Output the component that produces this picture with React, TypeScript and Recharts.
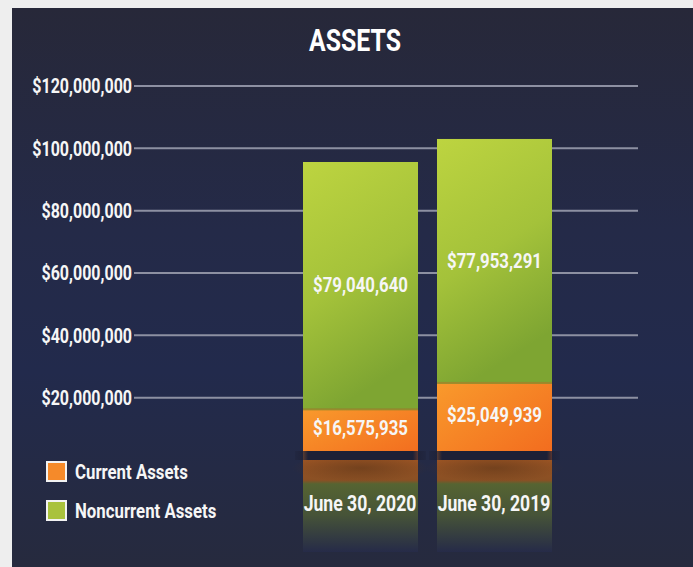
import { BarChart, Bar, XAxis, YAxis, CartesianGrid, Legend, LabelList } from "recharts";

const categories = ["June 30, 2020", "June 30, 2019"];
const currentAssets = [16575935, 25049939];
const noncurrentAssets = [79040640, 77953291];
const yTicks = [20000000, 40000000, 60000000, 80000000, 100000000, 120000000];

const data = categories.map((name, i) => ({
    name,
    current: currentAssets[i],
    noncurrent: noncurrentAssets[i],
}));

const FONT = "Roboto, 'DejaVu Sans', sans-serif";
const SQUEEZE = 0.8;
const money = (v: number) => "$" + v.toLocaleString("en-US");

// condensed text: the reference uses a narrow DIN-like face, so squeeze Roboto horizontally
function CText({ x, y, size, anchor = "middle", children, fill = "#f6f6f6" }: any) {
    return (
        <text
            transform={`translate(${x} ${y}) scale(${SQUEEZE} 1)`}
            x={0}
            y={0}
            textAnchor={anchor}
            dominantBaseline="central"
            fill={fill}
            fontFamily={FONT}
            fontWeight={700}
            fontSize={size}
        >
            {children}
        </text>
    );
}

function GreenBar(props: any) {
    const { x, y, width, height } = props;
    return <rect x={x} y={y} width={width} height={height} fill="url(#gGreen)" />;
}

function OrangeBar(props: any) {
    const { x, y, width, height } = props;
    const base = y + height;
    return (
        <g>
            <rect x={x} y={y} width={width} height={height} fill="url(#gOrange)" />
            <rect x={x} y={y - 2} width={width} height={4} fill="#8f8a2c" opacity={0.9} />
            <rect x={x} y={base} width={width} height={92} fill="url(#gReflect)" />
            <ellipse cx={x + width / 2} cy={base + 8} rx={width * 0.6} ry={14} fill="url(#gCurve)" />
            <rect x={x - 8} y={base - 9} width={width + 16} height={9} fill="url(#gShadow)" />
        </g>
    );
}

function ValueLabel(props: any) {
    const { x, y, width, height, value, dy = 0 } = props;
    return (
        <CText x={x + width / 2} y={y + height / 2 + dy} size={21}>
            {money(value)}
        </CText>
    );
}

function CategoryTick(props: any) {
    const { x, y, payload } = props;
    return (
        <CText x={x} y={y + 36} size={22}>
            {payload.value}
        </CText>
    );
}

function MoneyTick(props: any) {
    const { x, y, payload } = props;
    return (
        <CText x={x + 2} y={y} size={20} anchor="end">
            {money(payload.value)}
        </CText>
    );
}

function LegendBox() {
    const items = [
        { label: "Current Assets", color: "#f58a2a" },
        { label: "Noncurrent Assets", color: "#a9c23c" },
    ];
    return (
        <div>
            {items.map((it) => (
                <div key={it.label} style={{ display: "flex", alignItems: "center", height: 39, whiteSpace: "nowrap" }}>
                    <div style={{ width: 17, height: 17, background: it.color, border: "2px solid #f2f2f2", marginRight: 8, flexShrink: 0 }} />
                    <span
                        style={{
                            color: "#f6f6f6",
                            fontFamily: FONT,
                            fontWeight: 700,
                            fontSize: 21,
                            display: "inline-block",
                            transform: `scaleX(${SQUEEZE})`,
                            transformOrigin: "left center",
                        }}
                    >
                        {it.label}
                    </span>
                </div>
            ))}
        </div>
    );
}

export default function App() {
    return (
        <div style={{ position: "absolute", left: 0, top: 0, width: 693, height: 567, background: "#eeeeee", overflow: "hidden" }}>
            <div
                style={{
                    position: "absolute",
                    left: 12,
                    top: 8,
                    width: 681,
                    height: 559,
                    background: "linear-gradient(180deg, #272839 0%, #242a48 40%, #222a4c 65%, #262a3e 100%)",
                }}
            />
            <div
                style={{
                    position: "absolute",
                    left: 0,
                    top: 21,
                    width: 710,
                    textAlign: "center",
                    color: "#ffffff",
                    fontFamily: FONT,
                    fontWeight: 700,
                    fontSize: 31,
                    lineHeight: "40px",
                    transform: `scaleX(${SQUEEZE})`,
                }}
            >
                ASSETS
            </div>
            <div style={{ position: "absolute", left: 0, top: 0 }}>
                <BarChart width={693} height={567} data={data} margin={{ top: 86, right: 55, bottom: 0, left: 0 }}>
                    <defs>
                        <linearGradient id="gGreen" x1="0" y1="0" x2="0.3" y2="1">
                            <stop offset="0%" stopColor="#bdd440" />
                            <stop offset="55%" stopColor="#a4c23a" />
                            <stop offset="100%" stopColor="#7ea532" />
                        </linearGradient>
                        <linearGradient id="gOrange" x1="0" y1="0" x2="1" y2="1">
                            <stop offset="0%" stopColor="#f99a2c" />
                            <stop offset="100%" stopColor="#f26a1e" />
                        </linearGradient>
                        <linearGradient id="gReflect" x1="0" y1="0" x2="0" y2="1">
                            <stop offset="0%" stopColor="#9a5424" />
                            <stop offset="22%" stopColor="#8a5024" />
                            <stop offset="26%" stopColor="#566432" />
                            <stop offset="60%" stopColor="#465338" />
                            <stop offset="100%" stopColor="#262b48" />
                        </linearGradient>
                        <radialGradient id="gCurve" cx="0.5" cy="0.5" r="0.5">
                            <stop offset="0%" stopColor="#5a3418" stopOpacity={0.55} />
                            <stop offset="100%" stopColor="#5a3418" stopOpacity={0} />
                        </radialGradient>
                        <linearGradient id="gShadow" x1="0" y1="0" x2="1" y2="0">
                            <stop offset="0%" stopColor="#1d2036" stopOpacity={0.3} />
                            <stop offset="10%" stopColor="#1d2036" stopOpacity={1} />
                            <stop offset="90%" stopColor="#1d2036" stopOpacity={1} />
                            <stop offset="100%" stopColor="#1d2036" stopOpacity={0.3} />
                        </linearGradient>
                    </defs>
                    <CartesianGrid vertical={false} stroke="#8d90a2" strokeWidth={2} horizontalValues={yTicks} />
                    <XAxis
                        dataKey="name"
                        height={107}
                        padding={{ left: 159, right: 77 }}
                        axisLine={false}
                        tickLine={false}
                        tick={<CategoryTick />}
                        interval={0}
                    />
                    <YAxis
                        width={134}
                        domain={[0, 120000000]}
                        ticks={yTicks}
                        axisLine={false}
                        tickLine={false}
                        tickSize={2}
                        tick={<MoneyTick />}
                    />
                    <Legend
                        layout="vertical"
                        align="center"
                        verticalAlign="middle"
                        wrapperStyle={{ left: 46, top: 452, width: 220 }}
                        content={<LegendBox />}
                    />
                    <Bar dataKey="current" stackId="a" barSize={115} shape={<OrangeBar />} isAnimationActive={false}>
                        <LabelList dataKey="current" content={<ValueLabel dy={-6} />} />
                    </Bar>
                    <Bar dataKey="noncurrent" stackId="a" barSize={115} shape={<GreenBar />} isAnimationActive={false}>
                        <LabelList dataKey="noncurrent" content={<ValueLabel />} />
                    </Bar>
                </BarChart>
            </div>
        </div>
    );
}
